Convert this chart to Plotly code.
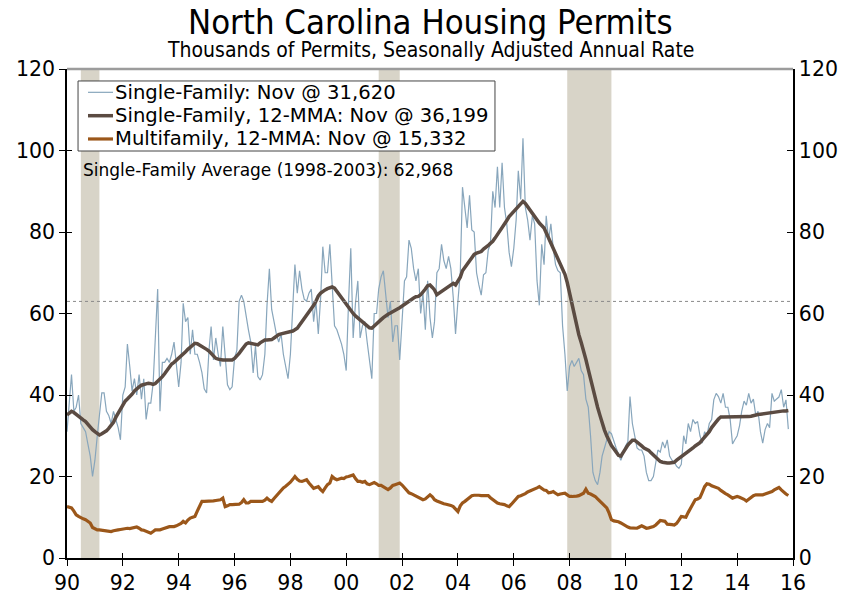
import pandas as pd
import plotly.graph_objects as go

# Monthly data, Jan 1990 - Nov 2015 (thousands of permits, SAAR)
SF = [
    31, 38, 45, 36, 37, 40, 33, 32, 31, 28, 25, 20,            # 1990
    24, 30, 35, 40.5, 40.5, 36, 35, 33, 36, 34, 32, 29,         # 1991
    40, 42, 52.5, 47, 41, 44, 40, 45, 39, 44, 34, 38,           # 1992
    38, 43, 55, 66, 36, 48, 48, 49, 48, 50, 53, 47,             # 1993
    42, 48, 62.5, 58, 59, 50, 56, 50, 50, 48, 45.5, 41.5,       # 1994
    40.5, 51, 56.8, 48.6, 54, 50, 47, 56.8, 49, 42.5, 41.3, 42, # 1995
    49, 51, 63, 64.5, 63, 59, 56, 53, 45.4, 52, 44.5, 43.7,     # 1996
    45, 50, 62, 71, 61, 58, 55, 53, 55, 50, 47, 44,             # 1997
    50, 62, 72, 65, 70.5, 66, 63.5, 63, 65, 66, 58, 63,         # 1998
    55, 64, 76.4, 70, 70, 77, 66, 57, 56, 54.5, 52.5, 50,       # 1999
    46, 63, 76, 54, 62.5, 68, 54, 57, 58, 53, 49, 44,           # 2000
    60, 60, 66, 69, 70.5, 64, 59, 63, 53, 57, 57, 48.6,         # 2001
    58, 68, 69, 78, 76, 71, 68, 71, 60, 65, 56, 68,             # 2002
    59, 54, 58, 70, 71, 77, 73, 71, 74, 71, 64, 55,             # 2003
    63, 70, 91, 86, 81, 89, 80.5, 80, 70, 67, 64.5, 69.5,       # 2004
    70, 75.6, 77, 90, 86, 96, 86, 97, 86, 82, 75, 71.5,         # 2005
    76, 83, 95, 88, 103, 86, 83, 78, 84, 82, 68, 62,            # 2006
    77, 72, 84, 78, 82, 76, 72, 70.5, 70, 57, 50, 41,           # 2007
    47, 48.5, 47, 48, 49, 46, 45, 39, 37, 30, 21, 19,           # 2008
    18, 21, 25, 27, 29, 31, 30.5, 29, 27, 25.5, 24, 25.5,       # 2009
    27.5, 28.5, 39.6, 33, 29.5, 27, 26.5, 26.5, 25, 21, 19, 19, # 2010
    20, 23, 26.5, 26, 28.5, 27, 29, 25, 24, 23.5, 22.5, 22,     # 2011
    23, 30, 28, 33, 31, 34, 33, 33.5, 30, 28.2, 31, 30,         # 2012
    33, 34, 38.8, 40.4, 39.6, 38, 40.4, 37, 37, 34, 28, 29,     # 2013
    30, 32.5, 36, 38.5, 37.5, 40.4, 38, 39, 35, 36, 31, 28.2,   # 2014
    31.5, 33, 32, 40.4, 38.5, 39, 39.5, 41.3, 37, 38.8, 31.62,  # 2015
]

SF_MMA = [
    35.1, 35.6, 36, 35.7, 35.2, 34.7, 34.3, 33.9, 33.5, 32.8, 32.1, 31.5,
    31, 30.5, 30.2, 30.5, 30.8, 31.2, 31.8, 32.6, 33.3, 34.5, 35.5, 36.5,
    37.2, 38.5, 39, 39.5, 40.2, 41, 41.6, 42, 42.4, 42.6, 42.8, 42.9,
    42.8, 42.6, 42.8, 43.3, 44, 44.5, 45.2, 46, 46.8, 47.6, 48, 48.5,
    49, 49.4, 50, 50.6, 51.2, 51.8, 52.2, 52.7, 52.6, 52.3, 51.9, 51.6,
    51.2, 50.8, 50.3, 49.7, 49, 48.8, 48.6, 48.6, 48.6, 48.6, 48.6, 48.6,
    49, 49.5, 50.2, 51, 51.8, 52.5, 52.8, 52.7, 52.7, 52.5, 52.3, 52.8,
    53.2, 53.5, 53.5, 53.6, 53.6, 54, 54.5, 54.8, 55, 55.1, 55.2, 55.4,
    55.5, 55.7, 56, 56.4, 57.2, 58, 58.6, 59.5, 60.2, 61, 62, 63,
    64.3, 65, 65.5, 65.8, 66.1, 66.4, 66.5, 66.2, 65.4, 64.6, 63.7, 62.9,
    62, 61.2, 60.6, 60, 59.4, 58.9, 58.4, 57.8, 57.3, 56.8, 56.5, 56.4,
    57, 57.4, 58, 58.5, 59, 59.5, 59.8, 60.1, 60.5, 60.8, 61.1, 61.4,
    61.8, 62.4, 62.8, 63.2, 63.5, 63.8, 64.1, 64.2, 64.6, 65.2, 66, 66.8,
    67, 66.4, 65.8, 64.6, 65, 65.6, 66, 66.3, 66.6, 67.2, 67.4, 67,
    67.8, 68.9, 70.5, 71.3, 72.2, 73.2, 73.9, 74.5, 74.8, 75, 75.2, 75.8,
    76.4, 76.7, 77.2, 77.7, 78.5, 79.3, 80.2, 81.2, 82, 82.8, 83.8, 84.4,
    85, 85.5, 86.2, 86.9, 87.5, 87, 86.2, 85.2, 84.3, 83.6, 82.9, 82.2,
    81.6, 81, 79.8, 78.5, 77.2, 75.6, 74.5, 73.4, 72, 70.8, 69.6, 67.6,
    65, 62.5, 59.5, 56.8, 54.8, 52.9, 51, 48.7, 46.3, 43.9, 41.6, 39.4,
    37, 35, 33, 31.4, 30, 28.6, 27.6, 26.8, 26, 25.2, 25, 26,
    26.9, 27.7, 28.3, 28.9, 28.9, 28.5, 28, 27.5, 27, 26.7, 26.4, 25.8,
    25.2, 24.6, 24.2, 23.7, 23.5, 23.3, 23.3, 23.3, 23.3, 23.5, 24, 24.4,
    24.8, 25.3, 25.7, 26.1, 26.5, 27, 27.5, 27.9, 28.3, 29, 29.7, 30.2,
    31, 32, 32.8, 33.4, 34.1, 34.6, 34.6, 34.6, 34.6, 34.6, 34.6, 34.5,
    34.5, 34.5, 34.6, 34.6, 34.6, 34.7, 34.8, 35, 35.1, 35.2, 35.3, 35.4,
    35.5, 35.5, 35.6, 35.7, 35.8, 35.9, 35.9, 36, 36.1, 36.1, 36.199,
]

MF_MMA = [
    12.6, 12.5, 12.3, 11.5, 10.6, 10.2, 9.8, 9.6, 9.4, 9, 8.6, 7.5,
    7.1, 6.9, 6.9, 6.8, 6.7, 6.5, 6.5, 6.5, 6.7, 6.9, 6.9, 7,
    7.1, 7.2, 7.3, 7.2, 7.3, 7.4, 7.6, 7.3, 6.9, 6.8, 6.6, 6.3,
    6.1, 6.5, 6.9, 6.9, 6.9, 7.1, 7.3, 7.4, 7.7, 7.7, 7.7, 7.9,
    8.1, 8.5, 9, 8.6, 9.3, 9.8, 10, 10.2, 11.5, 12.8, 13.9, 13.9,
    13.9, 13.9, 14, 14, 14.1, 14.2, 14.3, 14.7, 12.6, 12.8, 13.1, 13.1,
    13.1, 13.1, 13.2, 13.6, 14.3, 13.5, 13.5, 13.9, 13.9, 13.9, 13.9, 13.9,
    13.9, 14.2, 14.7, 14.2, 13.9, 14.6, 15.2, 16, 16.7, 17.2, 17.6, 18,
    18.6, 19.3, 20, 19.3, 18.9, 18.8, 19, 19.2, 18.4, 17.8, 17.1, 17.3,
    17.5, 16.8, 16.3, 17.2, 18, 18.4, 20, 19.5, 19.2, 19.4, 19.6, 19.5,
    19.9, 20, 20.2, 20.4, 19.5, 18.8, 18.8, 18.6, 18.8, 18.2, 18, 18.2,
    18.5, 18.2, 17.8, 17.8, 17.5, 17.2, 16.8, 17.2, 17.8, 18, 18.2, 18.4,
    17.9, 17.2, 16.6, 16, 15.8, 15.5, 15.3, 15.1, 14.8, 14.3, 14.5, 14.9,
    15.5, 15, 14.3, 14, 13.7, 13.5, 13.3, 13.2, 13.1, 12.9, 12.6, 12,
    11.4, 12.8, 13.5, 13.9, 14.3, 14.8, 15.3, 15.4, 15.5, 15.4, 15.3, 15.3,
    15.3, 15.3, 14.8, 14.3, 13.8, 13.5, 13.3, 13.2, 13.1, 12.8, 12.6, 13.2,
    13.9, 14.5, 15.1, 15.3, 15.5, 15.8, 16.2, 16.4, 16.7, 16.9, 17.2, 17.5,
    17, 16.7, 16.6, 16, 16.1, 16.3, 15.9, 15.5, 15.7, 15.9, 15.9, 15.5,
    15.1, 15.1, 15.1, 15.2, 15.3, 15.6, 15.9, 16.9, 15.9, 15.7, 15.4, 15.1,
    14.5, 13.9, 13.3, 12.6, 12.3, 11, 9.4, 9.1, 9, 8.9, 8.6, 8.2,
    7.8, 7.6, 7.4, 7.3, 7.3, 7.3, 7.6, 7.9, 7.6, 7.3, 7.4, 7.5,
    7.7, 8.1, 8.6, 9.2, 9.1, 9, 8.3, 8.3, 8.2, 8.1, 8.5, 9.3,
    10.2, 10.1, 10, 11.2, 12.2, 13.2, 14.3, 14.5, 14.8, 16.1, 17.5, 18.2,
    18.1, 17.7, 17.5, 17.3, 17.1, 16.6, 16.1, 15.8, 15.5, 15.1, 14.7, 14.9,
    15.1, 14.9, 14.7, 14.4, 14, 14.4, 15, 15.3, 15.5, 15.5, 15.5, 15.5,
    15.7, 15.9, 16.1, 16.3, 16.7, 17.1, 17.3, 16.7, 16.1, 15.7, 15.332,
]

SF_AVG = 62.968  # 1998-2003 average

RECESSIONS = [("1990-07-01", "1991-03-01"), ("2001-03-01", "2001-12-01"), ("2007-12-01", "2009-07-01")]

LABELS = ["Single-Family: Nov @ 31,620",
          "Single-Family, 12-MMA: Nov @ 36,199",
          "Multifamily, 12-MMA: Nov @ 15,332"]

dates = pd.date_range("1990-01-01", periods=len(SF), freq="MS")

C_SF = "#88A6BC"
C_MMA = "#5B4B42"
C_MF = "#9B571A"
COLORS = [C_SF, C_MMA, C_MF]
WIDTHS = [1.2, 3.5, 3.2]
SANS = "DejaVu Sans, Verdana, sans-serif"
COND = "DejaVu Sans Condensed, Liberation Sans Narrow, sans-serif"
TICK_FONT = dict(family=SANS, size=20.5, color="#000000")

fig = go.Figure()
for name, ys, col, w in zip(LABELS, [SF, SF_MMA, MF_MMA], COLORS, WIDTHS):
    fig.add_trace(go.Scatter(x=dates, y=ys, mode="lines", name=name,
                             line=dict(color=col, width=w), showlegend=False))
# helper traces so the overlay axes (right axis, crossing tick marks) draw
fig.add_trace(go.Scatter(x=dates[:1], y=[None], yaxis="y2", showlegend=False, hoverinfo="skip"))
fig.add_trace(go.Scatter(x=dates[:1], y=[None], yaxis="y3", showlegend=False, hoverinfo="skip"))
fig.add_trace(go.Scatter(x=dates[:1], y=[None], xaxis="x2", showlegend=False, hoverinfo="skip"))

shapes = []
for a, b in RECESSIONS:
    shapes.append(dict(type="rect", xref="x", yref="paper", x0=a, x1=b, y0=0, y1=1,
                       fillcolor="#D8D4C8", line=dict(width=0), layer="below"))
shapes.append(dict(type="line", xref="paper", yref="y", x0=0, x1=1, y0=SF_AVG, y1=SF_AVG,
                   line=dict(color="#8A8A8A", width=1, dash="dot")))
shapes.append(dict(type="line", xref="paper", yref="paper", x0=0, x1=1, y0=1, y1=1,
                   line=dict(color="#9C9C9C", width=2.5)))

# legend box (drawn manually for the reference's tight row spacing)
LEG_X0, LEG_X1, LEG_Y0, LEG_Y1 = 0.0152, 0.5895, 0.8323, 0.9755
LEG_ROWS = [0.9523, 0.9045, 0.8569]
shapes.append(dict(type="rect", xref="paper", yref="paper", x0=LEG_X0, x1=LEG_X1, y0=LEG_Y0, y1=LEG_Y1,
                   fillcolor="white", line=dict(color="#444444", width=1), layer="above"))
annotations = []
for label, col, w, yr in zip(LABELS, COLORS, WIDTHS, LEG_ROWS):
    shapes.append(dict(type="line", xref="paper", yref="paper", x0=0.0289, x1=0.0634, y0=yr, y1=yr,
                       line=dict(color=col, width=w), layer="above"))
    annotations.append(dict(text=label, xref="paper", yref="paper", x=0.0640, y=yr,
                            xanchor="left", yanchor="middle", showarrow=False,
                            font=dict(family=SANS, size=19.6, color="#000000")))

annotations += [
    dict(text="North Carolina Housing Permits", xref="paper", yref="paper", x=0.5, y=1.097,
         xanchor="center", yanchor="middle", showarrow=False,
         font=dict(family=COND, size=34.4, color="#000000")),
    dict(text="Thousands of Permits, Seasonally Adjusted Annual Rate", xref="paper", yref="paper",
         x=0.5, y=1.038, xanchor="center", yanchor="middle", showarrow=False,
         font=dict(family=COND, size=21, color="#000000")),
    dict(text=f"Single-Family Average (1998-2003): {SF_AVG*1000:,.0f}", xref="paper", yref="paper",
         x=0.019, y=0.793, xanchor="left", yanchor="middle", showarrow=False,
         font=dict(family=SANS, size=17, color="#000000")),
]

# The page adds an 8px body margin; margins are set so the plot lands where the reference has it.
XR = ["1990-01-01", "2016-01-01"]
fig.update_layout(
    template="none",
    width=850, height=591,
    margin=dict(l=59, r=65, t=61, b=41, autoexpand=False),
    paper_bgcolor="white", plot_bgcolor="white",
    showlegend=False,
    xaxis=dict(type="date", range=XR, dtick="M24", tick0="1990-01-01", tickformat="%y",
               automargin=False, showgrid=False, zeroline=False, showline=True,
               linecolor="black", linewidth=1.5,
               ticks="outside", ticklen=6, tickcolor="black", tickfont=TICK_FONT),
    xaxis2=dict(type="date", range=XR, dtick="M24", tick0="1990-01-01", overlaying="x",
                automargin=False, showgrid=False, zeroline=False, showticklabels=False,
                ticks="inside", ticklen=5, tickcolor="black"),
    yaxis=dict(range=[0, 120], dtick=20, automargin=False, showgrid=False, zeroline=False,
               showline=True, linecolor="black", linewidth=1.5,
               ticks="outside", ticklen=6, tickcolor="black", tickfont=TICK_FONT),
    yaxis2=dict(range=[0, 120], dtick=20, overlaying="y", side="right", automargin=False,
                showgrid=False, zeroline=False, showline=True, linecolor="black", linewidth=1.5,
                ticks="inside", ticklen=6, tickcolor="black", tickfont=TICK_FONT),
    yaxis3=dict(range=[0, 120], dtick=20, overlaying="y", side="left", automargin=False,
                showgrid=False, zeroline=False, showline=False, showticklabels=False,
                ticks="inside", ticklen=5, tickcolor="black"),
    shapes=shapes,
    annotations=annotations,
)

fig.write_html("out.html")
